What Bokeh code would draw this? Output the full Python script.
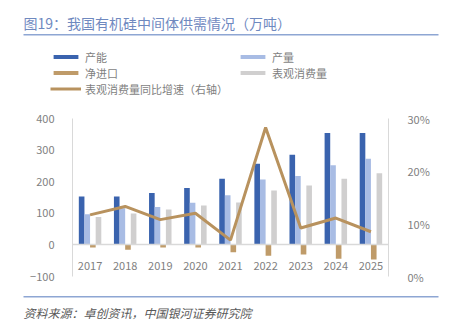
from bokeh.plotting import figure
from bokeh.models import (ColumnDataSource, Range1d, LinearAxis, FixedTicker,
                          NumeralTickFormatter, Legend, LegendItem, Label, BoxAnnotation)
from bokeh.transform import dodge
from bokeh.embed import file_html
from bokeh.resources import INLINE

years = ["2017", "2018", "2019", "2020", "2021", "2022", "2023", "2024", "2025"]
capacity = [153, 153, 164, 180, 209, 257, 285, 354, 354]
production = [97, 116, 120, 133, 157, 207, 218, 252, 273]
net_import = [-8, -15, -8, -8, -23, -34, -30, -44, -46]
consumption = [88, 99, 112, 125, 134, 172, 188, 209, 227]
growth = [0.117, 0.133, 0.108, 0.120, 0.069, 0.283, 0.092, 0.111, 0.085]
left_ticks = [-100, 0, 100, 200, 300, 400]
right_ticks = [0, 0.1, 0.2, 0.3]

title_text = "图19：我国有机硅中间体供需情况（万吨）"
source_text = "资料来源：卓创资讯，中国银河证券研究院"

FONT = "Noto Sans CJK SC"
C_CAP = "#3A63AE"
C_PROD = "#A8BCE4"
C_NET = "#BF9B69"
C_CONS = "#D0CFCF"
C_LINE = "#B8925E"
GREY_TXT = "#7F7F7F"
AX = "#D9D9D9"
BLUE_LINE = "#8EA6D3"

# layout (pixels)
W, H = 455, 321
PL, PR, PT, PB = 72, 388, 118, 276     # plot area in canvas px
YMIN, YMAX = -100, 400
PMIN, PMAX = 0.0, 0.3

n = len(years)
xs = list(range(n))
ppx = (PR - PL) / n
x0 = -0.5 - PL / ppx
x1 = n - 0.5 + (W - PR) / ppx
ppy = (PB - PT) / (YMAX - YMIN)
y0 = YMIN - (H - PB) / ppy
y1 = YMAX + PT / ppy
p0 = PMIN + (y0 - YMIN) / (YMAX - YMIN) * (PMAX - PMIN)
p1 = PMIN + (y1 - YMIN) / (YMAX - YMIN) * (PMAX - PMIN)

src = ColumnDataSource(dict(x=xs, cap=capacity, prod=production, net=net_import,
                            cons=consumption, growth=growth))

p = figure(width=W, height=H, x_range=Range1d(x0, x1), y_range=Range1d(y0, y1),
           output_backend="svg", toolbar_location=None, min_border=0,
           min_border_left=0, min_border_right=0, min_border_top=0, min_border_bottom=0,
           outline_line_color=None, title=None)
p.grid.visible = False
p.extra_y_ranges = {"pct": Range1d(p0, p1)}

# x axis (zero line with year labels)
xa = p.xaxis[0]
xa.fixed_location = 0
xa.bounds = (-0.5, n - 0.5)
xa.ticker = FixedTicker(ticks=xs)
xa.major_label_overrides = {i: y for i, y in zip(xs, years)}
xa.axis_line_color = AX
xa.axis_line_width = 1.5
xa.major_tick_line_color = None
xa.minor_tick_line_color = None
xa.major_label_standoff = 11
xa.major_label_text_font = FONT
xa.major_label_text_font_size = "11px"
xa.major_label_text_color = GREY_TXT

ya = p.yaxis[0]
ya.fixed_location = -0.5
ya.bounds = (YMIN, YMAX)
ya.ticker = FixedTicker(ticks=left_ticks)
ya.axis_line_color = AX
ya.major_tick_line_color = None
ya.minor_tick_line_color = None
ya.major_label_standoff = 12
ya.major_label_text_font = FONT
ya.major_label_text_font_size = "11px"
ya.major_label_text_color = GREY_TXT

ra = LinearAxis(y_range_name="pct", ticker=FixedTicker(ticks=right_ticks),
                formatter=NumeralTickFormatter(format="0%"))
ra.fixed_location = n - 0.5
ra.bounds = (PMIN, PMAX)
ra.axis_line_color = AX
ra.major_tick_line_color = None
ra.minor_tick_line_color = None
ra.major_label_standoff = 13
ra.major_label_text_font = FONT
ra.major_label_text_font_size = "11px"
ra.major_label_text_color = GREY_TXT
p.add_layout(ra, "right")

w = 0.16
r_cap = p.vbar(x=dodge("x", -0.24), top="cap", bottom=0, width=w,
               source=src, fill_color=C_CAP, line_color=None)
r_prod = p.vbar(x=dodge("x", -0.08), top="prod", bottom=0, width=w,
                source=src, fill_color=C_PROD, line_color=None)
r_net = p.vbar(x=dodge("x", 0.08), top="net", bottom=0, width=w,
               source=src, fill_color=C_NET, line_color=None)
r_cons = p.vbar(x=dodge("x", 0.24), top="cons", bottom=0, width=w,
                source=src, fill_color=C_CONS, line_color=None)
r_line = p.line(x="x", y="growth", y_range_name="pct", source=src,
                line_color=C_LINE, line_width=3)

ROW = 16

def mk_legend(items, x, top):
    h = len(items) * ROW
    lg = Legend(items=items, location=(x, H - top - h), orientation="vertical",
                label_text_font=FONT, label_text_font_size="11px", label_text_color=GREY_TXT,
                glyph_width=31, glyph_height=5, label_height=ROW, label_standoff=4,
                spacing=0, padding=0, margin=0, border_line_color=None,
                background_fill_alpha=0)
    p.add_layout(lg)

mk_legend([LegendItem(label="产能", renderers=[r_cap]),
           LegendItem(label="净进口", renderers=[r_net]),
           LegendItem(label="表观消费量同比增速（右轴）", renderers=[r_line])], 50, 48.5)
mk_legend([LegendItem(label="产量", renderers=[r_prod]),
           LegendItem(label="表观消费量", renderers=[r_cons])], 237, 48.5)

p.add_layout(Label(x=23, y=H - 22, x_units="screen", y_units="screen", text=title_text,
                   text_font=FONT, text_font_size="14px", text_color="#6F89BF",
                   text_baseline="middle", text_align="left"))
p.add_layout(Label(x=23, y=H - 311.5, x_units="screen", y_units="screen", text=source_text,
                   text_font=FONT, text_font_size="12px", text_font_style="italic",
                   text_color="#595959", text_baseline="middle", text_align="left"))
p.add_layout(BoxAnnotation(left=23, right=438, top=H - 33.5, bottom=H - 35,
                           left_units="screen", right_units="screen", top_units="screen",
                           bottom_units="screen", fill_color=BLUE_LINE, fill_alpha=1,
                           line_color=None))
p.add_layout(BoxAnnotation(left=23, right=438, top=H - 295.5, bottom=H - 297,
                           left_units="screen", right_units="screen", top_units="screen",
                           bottom_units="screen", fill_color=BLUE_LINE, fill_alpha=1,
                           line_color=None))

open("out.html", "w").write(file_html(p, INLINE))
